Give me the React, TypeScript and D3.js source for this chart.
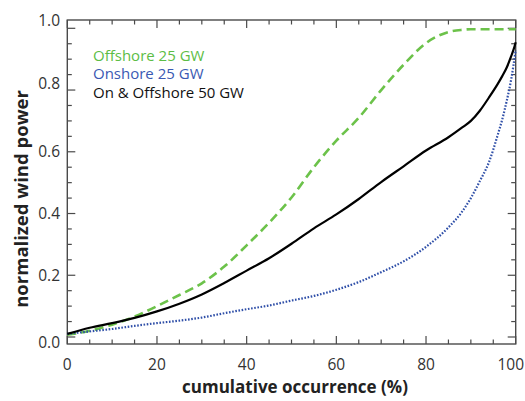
import React from "react";
import * as d3 from "d3";

const occurrence = [0, 5, 10, 15, 20, 25, 30, 35, 40, 45, 50, 55, 60, 65, 70, 75, 80, 85, 88, 90, 92, 94, 96, 97, 98, 99, 99.5, 100];
const offshore = [0.007, 0.02, 0.04, 0.066, 0.1, 0.136, 0.174, 0.228, 0.297, 0.37, 0.452, 0.55, 0.636, 0.71, 0.8, 0.882, 0.952, 0.988, 0.995, 0.997, 0.997, 0.997, 0.997, 0.997, 0.997, 0.997, 0.997, 0.997];
const onshore = [0.01, 0.018, 0.026, 0.036, 0.045, 0.053, 0.063, 0.077, 0.09, 0.102, 0.118, 0.133, 0.153, 0.178, 0.21, 0.245, 0.292, 0.355, 0.405, 0.45, 0.505, 0.565, 0.655, 0.705, 0.765, 0.835, 0.88, 0.93];
const combined = [0.01, 0.03, 0.045, 0.062, 0.083, 0.108, 0.138, 0.175, 0.215, 0.255, 0.302, 0.352, 0.397, 0.447, 0.502, 0.553, 0.604, 0.647, 0.678, 0.7, 0.733, 0.775, 0.82, 0.845, 0.873, 0.91, 0.93, 0.955];

const seriesNames = ["Offshore 25 GW", "Onshore 25 GW", "On & Offshore 50 GW"];
const xTickLabels = [0, 20, 40, 60, 80, 100];
const yTickLabels = [0, 0.2, 0.4, 0.6, 0.8, 1.0];
const yLabelShift = [5, 0, 0, 0, -7, -8];
const xTitle = "cumulative occurrence (%)";
const yTitle = "normalized wind power";

const W = 525;
const H = 401;
const FONT = "'Open Sans', 'DejaVu Sans', sans-serif";

export default function App() {
  const x = d3.scaleLinear().domain([0, 100]).range([67.3, 515.7]);
  const y = d3.scaleLinear().domain([-0.0227, 1.0269]).range([344, 20]);
  const left = x(0), right = x(100), top = y(1.0269), bottom = y(-0.0227);

  const xMinor = d3.range(0, 101, 5);
  const yMinor = d3.range(0, 1.0001, 0.05).map((v) => Math.round(v * 100) / 100);
  const isMajorX = (v: number) => v % 20 === 0;
  const isMajorY = (v: number) => Math.abs(Math.round(v * 5) - v * 5) < 1e-6;

  const line = (vals: number[]) =>
    d3
      .line<number>()
      .x((_, i) => x(occurrence[i]))
      .y((d) => y(d))
      .curve(d3.curveMonotoneX)(vals) || "";

  const axisColor = "#4a4a4a";
  const series = [
    { vals: offshore, color: "#6cc24a", dash: "9,5", width: 2.6, text: "#5cbd45" },
    { vals: onshore, color: "#2f4fa8", dash: "1.6,1.6", width: 2.2, text: "#3a59b3" },
    { vals: combined, color: "#000000", dash: "none", width: 2.2, text: "#111111" },
  ];

  return (
    <svg width={W} height={H} style={{ position: "absolute", left: 0, top: 0, background: "#fff" }} fontFamily={FONT}>
      <rect x={0} y={0} width={W} height={H} fill="#fff" />
      {/* ticks */}
      {xMinor.map((v) => {
        const len = isMajorX(v) ? 8 : 4.5;
        return (
          <g key={"xt" + v} stroke={axisColor} strokeWidth={1.2}>
            <line x1={x(v)} x2={x(v)} y1={bottom} y2={bottom - len} />
            <line x1={x(v)} x2={x(v)} y1={top} y2={top + len} />
          </g>
        );
      })}
      {yMinor.map((v) => {
        const len = isMajorY(v) ? 8 : 4.5;
        return (
          <g key={"yt" + v} stroke={axisColor} strokeWidth={1.2}>
            <line x1={left} x2={left + len} y1={y(v)} y2={y(v)} />
            <line x1={right} x2={right - len} y1={y(v)} y2={y(v)} />
          </g>
        );
      })}
      <rect x={left} y={top} width={right - left} height={bottom - top} fill="none" stroke={axisColor} strokeWidth={1.4} />
      {/* curves */}
      {series.map((s, i) => (
        <path
          key={"s" + i}
          d={line(s.vals)}
          fill="none"
          stroke={s.color}
          strokeWidth={s.width}
          strokeDasharray={s.dash}
          strokeLinejoin="round"
        />
      ))}
      {/* tick labels */}
      {xTickLabels.map((v, i) => {
        const last = i === xTickLabels.length - 1;
        return (
          <text
            key={"xl" + v}
            x={last ? W - 1 : x(v)}
            y={369.5}
            textAnchor={last ? "end" : "middle"}
            fontSize={15.5}
            fill="#333"
          >
            {v}
          </text>
        );
      })}
      {yTickLabels.map((v, i) => (
        <text key={"yl" + v} x={60} y={y(v) + yLabelShift[i]} dy="0.36em" textAnchor="end" fontSize={15.5} fill="#333">
          {v.toFixed(1)}
        </text>
      ))}
      {/* titles */}
      <text x={295} y={393} textAnchor="middle" fontSize={17} fontWeight="bold" fill="#222">
        {xTitle}
      </text>
      <text transform="translate(28,199) rotate(-90)" textAnchor="middle" fontSize={18.5} fontWeight="bold" fill="#222">
        {yTitle}
      </text>
      {/* legend */}
      {series.map((s, i) => (
        <text key={"lg" + i} x={93} y={61 + i * 18.3} fontSize={15} fill={s.text}>
          {seriesNames[i]}
        </text>
      ))}
    </svg>
  );
}
